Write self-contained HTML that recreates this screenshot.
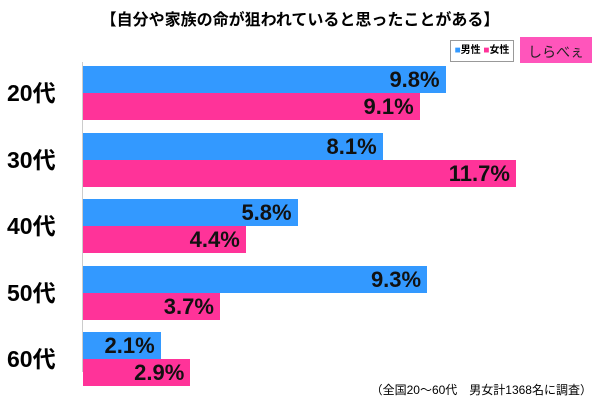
<!DOCTYPE html><html><head><meta charset="utf-8"><style>
body{margin:0;width:600px;height:400px;background:#fff;position:relative;overflow:hidden;font-family:"Liberation Sans","Noto Sans CJK JP",sans-serif}
.a{position:absolute}
.bar{position:absolute;left:83px;height:27px}
.m{background:#3399ff}.f{background:#ff3399}
.v{position:absolute;font-weight:bold;font-size:22px;color:#111;line-height:28px;text-align:right}
.lab{position:absolute;left:7px;font-weight:bold;font-size:23px;width:60px;line-height:30px}
</style></head><body>
<div class="a" style="left:0;width:600px;top:6px;text-align:center;font-weight:bold;font-size:16px">【自分や家族の命が狙われていると思ったことがある】</div>
<div class="a" style="left:450px;top:40px;width:62px;height:20px;border:1px solid #999;font-size:10px;font-weight:bold;line-height:20px;text-align:center"><span style="color:#3399ff">■</span>男性 <span style="color:#ff3399">■</span>女性</div>
<div class="a" style="left:520px;top:37px;width:72px;height:26px;background:#ff55bb;font-size:14px;line-height:30px;text-align:center;color:#222">しらべぇ</div>
<div class="a" style="left:82px;top:62px;width:1px;height:310px;background:#ccc"></div>
<div id="c"></div>
<div class="a" style="right:8px;top:381px;font-size:12px">（全国20～60代　男女計1368名に調査）</div>
<script>
var d=[["20代",9.8,9.1],["30代",8.1,11.7],["40代",5.8,4.4],["50代",9.3,3.7],["60代",2.1,2.9]],h="";
d.forEach(function(r,i){var y=66+i*66.5;
h+='<div class="lab" style="top:'+(y+12)+'px">'+r[0]+'</div>';
[1,2].forEach(function(k){var w=r[k]*37,yy=y+(k-1)*27;
h+='<div class="bar '+(k==1?'m':'f')+'" style="top:'+yy+'px;width:'+w+'px"></div>';
h+='<div class="v" style="left:'+(83+w-126)+'px;width:120px;top:'+yy+'px">'+r[k].toFixed(1)+'%</div>';});});
document.getElementById('c').innerHTML=h;
</script>
</body></html>
